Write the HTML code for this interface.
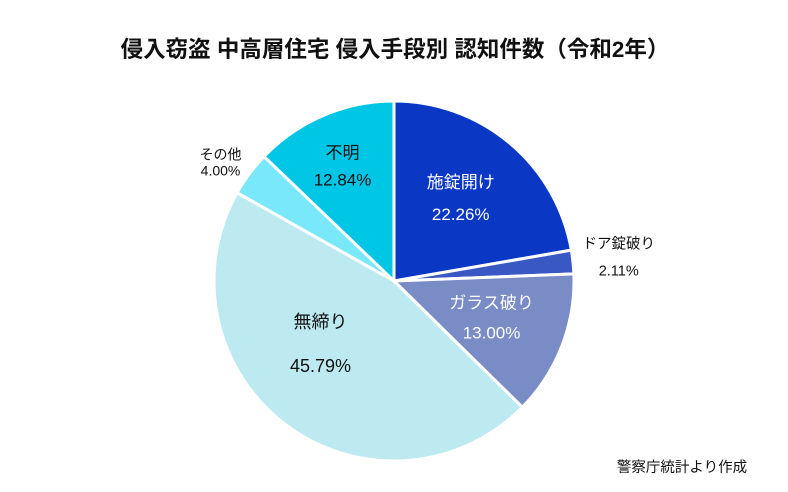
<!DOCTYPE html>
<html><head><meta charset="utf-8"><style>
body{margin:0;background:#fff;}
svg text{font-family:"Liberation Sans","Noto Sans CJK JP",sans-serif;}
</style></head><body>
<svg width="788" height="487" viewBox="0 0 788 487">
<text x="395" y="57" text-anchor="middle" font-size="22.5" font-weight="bold" fill="#111">侵入窃盗 中高層住宅 侵入手段別 認知件数（令和2年）</text>
<g id="slices"></g>
<g id="labels"></g>
<text x="682" y="472" text-anchor="middle" font-size="14.5" fill="#111">警察庁統計より作成</text>
</svg>
<script>
const categories=["施錠開け","ドア錠破り","ガラス破り","無締り","その他","不明"];
const values=[22.26,2.11,13.00,45.79,4.00,12.84];
const colors=["#0a38c4","#3a58c4","#7a8cc6","#bdeaf1","#78e8fa","#00c6e6"];
const cx=394,cy=281,r=180;
const ns="http://www.w3.org/2000/svg";
const total=values.reduce((a,b)=>a+b,0);
function pt(frac,rad){const a=frac*2*Math.PI-Math.PI/2;return [cx+rad*Math.cos(a),cy+rad*Math.sin(a)];}
const sg=document.getElementById('slices'),lg=document.getElementById('labels');
// [radius factor, color, size, gap, dx, dy]
const lab=[[0.55,"#fff",17,32,3,-6],[1.25,"#111",14.5,27,1,0],[0.7,"#fff",17,30,-20,-8],[0.55,"#111",18,44,-14,-15],[1.2,"#111",14,16,0,10],[0.7,"#111",17,27,-2,2]];
let acc=0;
values.forEach((v,i)=>{
 const s=acc/total,e=(acc+v)/total;acc+=v;
 const [x1,y1]=pt(s,r),[x2,y2]=pt(e,r);
 const p=document.createElementNS(ns,'path');
 p.setAttribute('d',`M${cx},${cy}L${x1},${y1}A${r},${r} 0 ${e-s>0.5?1:0} 1 ${x2},${y2}Z`);
 p.setAttribute('fill',colors[i]);p.setAttribute('stroke','#fff');p.setAttribute('stroke-width','3');
 
 
 sg.appendChild(p);
 let [lx,ly]=pt((s+e)/2,r*lab[i][0]);
 lx+=lab[i][4];ly+=lab[i][5];
 const gap=lab[i][3];
 const t1=document.createElementNS(ns,'text');
 t1.setAttribute('x',lx);t1.setAttribute('y',ly-gap/2+5);t1.setAttribute('text-anchor','middle');
 t1.setAttribute('font-size',lab[i][2]);t1.setAttribute('fill',lab[i][1]);t1.textContent=categories[i];
 
 
 lg.appendChild(t1);
 const t2=document.createElementNS(ns,'text');
 t2.setAttribute('x',lx);t2.setAttribute('y',ly+gap/2+5);t2.setAttribute('text-anchor','middle');
 t2.setAttribute('font-size',lab[i][2]);t2.setAttribute('fill',lab[i][1]);t2.textContent=v.toFixed(2)+"%";
 
 
 lg.appendChild(t2);
});
</script>
</body></html>
